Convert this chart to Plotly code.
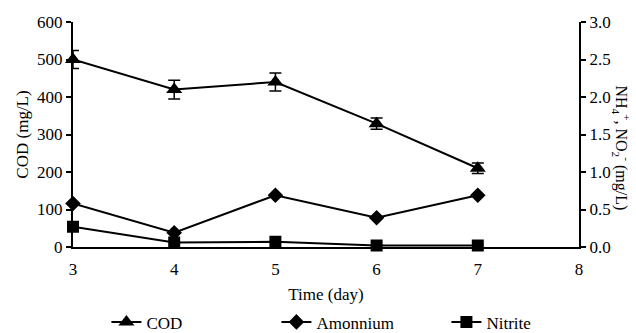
import plotly.graph_objects as go

days = [3, 4, 5, 6, 7]
cod = [500, 420, 440, 329, 210]
cod_err = [24, 25, 24, 15, 14]
ammonium = [0.58, 0.19, 0.69, 0.39, 0.69]
nitrite = [0.27, 0.06, 0.07, 0.02, 0.02]

x_ticks = [3, 4, 5, 6, 7, 8]
y1_ticks = [0, 100, 200, 300, 400, 500, 600]
y2_ticks = [0, 0.5, 1.0, 1.5, 2.0, 2.5, 3.0]

FONT = "Liberation Serif, Times New Roman, serif"
line = dict(color="black", width=2)

fig = go.Figure()
fig.add_trace(go.Scatter(x=days, y=cod, name="COD", mode="lines+markers",
                         line=line, marker=dict(symbol="triangle-up", size=14, color="black"),
                         error_y=dict(type="data", array=cod_err, color="black", thickness=1.5, width=6),
                         cliponaxis=False))
fig.add_trace(go.Scatter(x=days, y=ammonium, name="Amonnium", mode="lines+markers", yaxis="y2",
                         line=line, marker=dict(symbol="diamond", size=12, color="black"),
                         cliponaxis=False))
fig.add_trace(go.Scatter(x=days, y=nitrite, name="Nitrite", mode="lines+markers", yaxis="y2",
                         line=line, marker=dict(symbol="square", size=12, color="black"),
                         cliponaxis=False))

axis_common = dict(showline=True, linecolor="black", linewidth=2, showgrid=False, zeroline=False,
                   tickfont=dict(family=FONT, size=17, color="black"))

fig.update_layout(
    width=636, height=333,
    margin=dict(l=73, r=57, t=22, b=86, autoexpand=False),
    paper_bgcolor="white", plot_bgcolor="white",
    font=dict(family=FONT, size=17, color="black"),
    xaxis=dict(range=[3, 8], tickvals=x_ticks, ticks="", ticklabelstandoff=6, **axis_common,
               title=dict(text="Time (day)", font=dict(family=FONT, size=17), standoff=10)),
    yaxis=dict(range=[0, 600], tickvals=y1_ticks, ticks="outside", ticklen=5, tickwidth=2,
               tickcolor="black", **axis_common,
               title=dict(text="COD (mg/L)", font=dict(family=FONT, size=17), standoff=4)),
    yaxis2=dict(range=[0, 3], tickvals=y2_ticks, tickformat=".1f", overlaying="y", side="right",
                ticks="outside", ticklen=5, tickwidth=2, tickcolor="black", **axis_common),
    legend=dict(orientation="h", x=0.57, xanchor="center", y=-0.255, yanchor="top",
                font=dict(family=FONT, size=17), entrywidth=125, bgcolor="rgba(0,0,0,0)"),
    showlegend=True,
    annotations=[dict(text="NH<sub>4</sub><sup>+</sup>, NO<sub>2</sub><sup>-</sup> (mg/L)",
                      textangle=90, xref="paper", yref="paper", x=1.084, y=0.44,
                      xanchor="center", yanchor="middle", showarrow=False,
                      font=dict(family=FONT, size=16, color="black"))],
)

fig.write_html("out.html", config={"displayModeBar": False},
               post_script="document.body.style.margin='0';")
